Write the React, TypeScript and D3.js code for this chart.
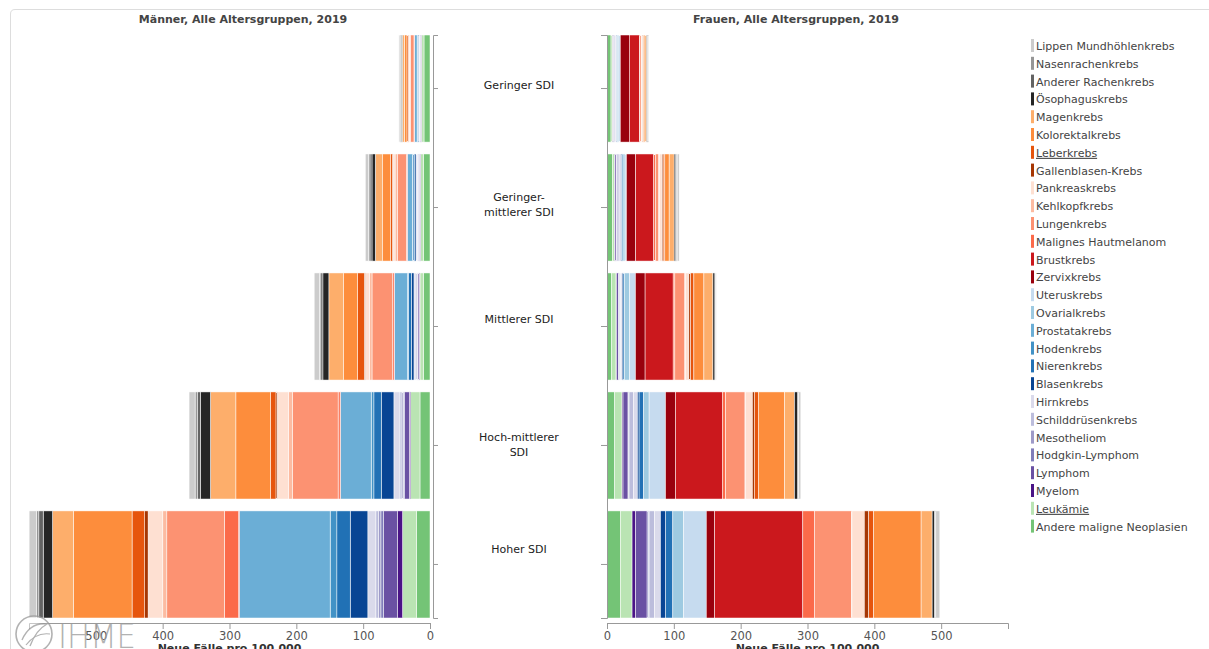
import React, { useEffect, useRef } from 'react';
import * as d3 from 'd3';

const cancerTypes = [
  'Lippen Mundhöhlenkrebs', 'Nasenrachenkrebs', 'Anderer Rachenkrebs', 'Ösophaguskrebs',
  'Magenkrebs', 'Kolorektalkrebs', 'Leberkrebs', 'Gallenblasen-Krebs', 'Pankreaskrebs',
  'Kehlkopfkrebs', 'Lungenkrebs', 'Malignes Hautmelanom', 'Brustkrebs', 'Zervixkrebs',
  'Uteruskrebs', 'Ovarialkrebs', 'Prostatakrebs', 'Hodenkrebs', 'Nierenkrebs', 'Blasenkrebs',
  'Hirnkrebs', 'Schilddrüsenkrebs', 'Mesotheliom', 'Hodgkin-Lymphom', 'Lymphom', 'Myelom',
  'Leukämie', 'Andere maligne Neoplasien',
];

const cancerColors = [
  '#cccccc', '#969696', '#636363', '#252525',
  '#fdae6b', '#fd8d3c', '#e6550d', '#a63603', '#fee0d2',
  '#fcbba1', '#fc9272', '#fb6a4a', '#cb181d', '#99000d',
  '#c6dbef', '#9ecae1', '#6baed6', '#4292c6', '#2171b5', '#084594',
  '#dadaeb', '#bcbddc', '#9e9ac8', '#807dba', '#6a51a3', '#4a1486',
  '#bae4b3', '#74c476',
];

const underlinedLegend = ['Leberkrebs', 'Leukämie'];

const sdiGroups = ['Geringer SDI', 'Geringer-mittlerer SDI', 'Mittlerer SDI', 'Hoch-mittlerer SDI', 'Hoher SDI'];
const sdiLabelLines = [['Geringer SDI'], ['Geringer-', 'mittlerer SDI'], ['Mittlerer SDI'], ['Hoch-mittlerer', 'SDI'], ['Hoher SDI']];

const xTickValues = [0, 100, 200, 300, 400, 500];
const xMax = 600;

const titleMen = 'Männer, Alle Altersgruppen, 2019';
const titleWomen = 'Frauen, Alle Altersgruppen, 2019';
const xAxisLabel = 'Neue Fälle pro 100.000';

// Values in legend order (new cases per 100,000)
const menGeringer = [1.5, 1, 1, 1.5, 3, 4, 2, 0.5, 1.5, 1.5, 5, 0.5, 0.2, 0, 0, 0, 4, 0.5, 1, 1, 1, 0.5, 0.3, 0.5, 1, 0.5, 4, 9];
const menGeringerMittlerer = [4.5, 2.5, 3, 5, 11, 12, 2.5, 1, 3, 4, 13, 1, 0.3, 0, 0, 0, 7.5, 1, 2.5, 2, 2, 2, 0.5, 0.5, 1.5, 0.5, 4, 10];
const menMittlerer = [8, 2, 3, 9, 22, 21, 10, 1.5, 6, 4, 31, 2, 0.3, 0, 0, 0, 20, 1, 4.5, 4, 3, 2, 0.5, 0.5, 2, 1, 5, 10];
const menHochMittlerer = [9, 4, 4, 15, 38, 52, 8, 2, 16.5, 6.5, 68, 3, 0.5, 0, 0, 0, 46, 4, 11, 19, 9, 3, 2, 2, 7, 2, 14, 15];
const menHoher = [11, 3.5, 6.5, 14, 31, 88, 19, 5, 22, 6, 86, 21.4, 1, 0, 0, 0, 136, 10, 20, 26.4, 12, 4, 3.5, 4, 21, 7.5, 21, 20];

const womenGeringer = [1, 0.5, 0.5, 1.5, 2.5, 2, 1, 0.5, 1.5, 0.5, 2, 1, 15, 13.5, 2, 2, 0, 0, 1, 0.5, 2, 1.5, 0.3, 0.5, 1, 0.5, 2.5, 6];
const womenGeringerMittlerer = [3, 1, 1, 2.5, 7.5, 6.5, 2.5, 1.5, 4, 1, 5, 2.5, 27, 14, 2, 3, 0, 0, 1.5, 1, 3.5, 3, 0.5, 0.5, 2, 0.5, 3.5, 8];
const womenMittlerer = [1, 0.5, 0.5, 3, 13.5, 15, 5, 2.5, 5, 1, 15, 2.5, 42, 14.5, 9, 7.5, 0, 0, 2, 1.5, 2, 2, 0.5, 0.5, 3, 1, 7, 6.5];
const womenHochMittlerer = [3, 0.5, 1, 5, 15, 39, 6, 3, 10, 1, 29, 5, 70, 15, 24.5, 8.5, 0, 0, 6.5, 2.5, 6, 6.5, 0.5, 1, 7.5, 1.5, 11, 11.5];
const womenHoher = [6, 1, 1, 3.5, 16.5, 71, 7.5, 6.5, 18.5, 1, 55, 17.5, 132, 12.5, 34, 16, 0, 0, 11, 7.5, 9, 8, 1, 2, 17, 5.5, 17.5, 20];

const menValues = [menGeringer, menGeringerMittlerer, menMittlerer, menHochMittlerer, menHoher];
const womenValues = [womenGeringer, womenGeringerMittlerer, womenMittlerer, womenHochMittlerer, womenHoher];

const FONT = '"DejaVu Sans", Verdana, sans-serif';

function buildRows(values: number[][]) {
  return sdiGroups.map((g, gi) => {
    const row: any = { group: g };
    cancerTypes.forEach((c, ci) => { row[c] = values[gi][ci]; });
    return row;
  });
}

export default function App() {
  const W = 1209;
  const H = 649;

  const xL = d3.scaleLinear().domain([0, xMax]).range([430, 29]);
  const xR = d3.scaleLinear().domain([0, xMax]).range([607, 1008]);
  const y = d3.scaleBand<string>().domain(sdiGroups).range([35, 618]).paddingInner(0.1).paddingOuter(0);
  const color = d3.scaleOrdinal<string, string>().domain(cancerTypes).range(cancerColors);

  const keys = cancerTypes.slice().reverse();
  const stack = d3.stack<any>().keys(keys);
  const menSeries = stack(buildRows(menValues));
  const womenSeries = stack(buildRows(womenValues));

  const gxL = useRef<SVGGElement>(null);
  const gxR = useRef<SVGGElement>(null);
  const gyL = useRef<SVGGElement>(null);
  const gyR = useRef<SVGGElement>(null);

  useEffect(() => {
    document.body.style.margin = '0';
    const style = (g: any) => {
      g.selectAll('.domain').attr('stroke', '#999').attr('stroke-width', 1);
      g.selectAll('.tick line').attr('stroke', '#999');
      g.selectAll('.tick text').attr('fill', '#555').style('font-family', FONT).style('font-size', '11.5px');
    };
    const axL = d3.axisBottom(xL).tickValues(xTickValues).tickSize(6).tickSizeOuter(6).tickFormat(d3.format('d') as any);
    const axR = d3.axisBottom(xR).tickValues(xTickValues).tickSize(6).tickSizeOuter(6).tickFormat(d3.format('d') as any);
    d3.select(gxL.current).call(axL as any).call(style);
    d3.select(gxR.current).call(axR as any).call(style);
    const ayL = d3.axisRight(y).tickSize(5).tickSizeOuter(5).tickFormat(() => '');
    const ayR = d3.axisLeft(y).tickSize(6).tickSizeOuter(6).tickFormat(() => '');
    d3.select(gyL.current).call(ayL as any).call(style);
    d3.select(gyR.current).call(ayR as any).call(style);
  }, []);

  const labelCenterShift = [-3.5, -3, -7.5, -1, -15.5];
  const legendY0 = 46;
  const legendStep = 17.8;

  return (
    <svg width={W} height={H} style={{ position: 'absolute', left: 0, top: 0, background: '#fff' }} fontFamily={FONT}>
      <rect x={0} y={0} width={W} height={H} fill="#fff" />
      <path d={`M10.5,${H} V14 Q10.5,9.5 15,9.5 H${W}`} fill="none" stroke="#ddd" />

      <text x={243} y={23} textAnchor="middle" fontSize={11} fontWeight="bold" fill="#444">{titleMen}</text>
      <text x={796} y={23} textAnchor="middle" fontSize={11} fontWeight="bold" fill="#444">{titleWomen}</text>

      {menSeries.map((s) => (
        <g key={'m' + s.key} fill={color(s.key)}>
          {s.map((d: any, i: number) => (
            <rect key={i} x={xL(d[1])} y={y(sdiGroups[i])} width={Math.max(0, xL(d[0]) - xL(d[1]))}
              height={y.bandwidth()} stroke="#fff" strokeWidth={0.5} />
          ))}
        </g>
      ))}
      {womenSeries.map((s) => (
        <g key={'w' + s.key} fill={color(s.key)}>
          {s.map((d: any, i: number) => (
            <rect key={i} x={xR(d[0])} y={y(sdiGroups[i])} width={Math.max(0, xR(d[1]) - xR(d[0]))}
              height={y.bandwidth()} stroke="#fff" strokeWidth={0.5} />
          ))}
        </g>
      ))}

      <g ref={gxL} transform="translate(0,623)" />
      <g ref={gxR} transform="translate(0,623)" />
      <g ref={gyL} transform="translate(433,0)" />
      <g ref={gyR} transform="translate(607,0)" />

      <text x={(xL(0) + xL(xMax)) / 2} y={652} textAnchor="middle" fontSize={11} fontWeight="bold" fill="#333">{xAxisLabel}</text>
      <text x={(xR(0) + xR(xMax)) / 2} y={652} textAnchor="middle" fontSize={11} fontWeight="bold" fill="#333">{xAxisLabel}</text>

      {sdiLabelLines.map((lines, gi) => {
        const cy = (y(sdiGroups[gi]) as number) + y.bandwidth() / 2 + labelCenterShift[gi];
        const startY = cy - ((lines.length - 1) * 15) / 2 + 4;
        return (
          <text key={gi} x={519} textAnchor="middle" fontSize={11} fill="#222">
            {lines.map((l, li) => (
              <tspan key={li} x={519} y={startY + li * 15}>{l}</tspan>
            ))}
          </text>
        );
      })}

      {cancerTypes.map((c, i) => {
        const cy = legendY0 + i * legendStep;
        return (
          <g key={c}>
            <rect x={1031} y={cy - 7} width={3} height={13} fill={color(c)} />
            <text x={1036} y={cy + 4} fontSize={11} fill="#444"
              textDecoration={underlinedLegend.includes(c) ? 'underline' : undefined}>{c}</text>
          </g>
        );
      })}

      <g opacity={0.75}>
        <circle cx={34} cy={634} r={18} fill="#fff" fillOpacity={0.6} stroke="#999" strokeWidth={1.6} />
        <path d="M22,640 Q30,622 47,624 Q36,630 30,646" fill="none" stroke="#999" strokeWidth={1.4} />
        <path d="M26,645 Q36,632 50,634" fill="none" stroke="#999" strokeWidth={1.2} />
        <text x={58} y={648} fontSize={34} fontWeight={200} fill="#999" textLength={78} lengthAdjust="spacingAndGlyphs">IHME</text>
      </g>
    </svg>
  );
}
